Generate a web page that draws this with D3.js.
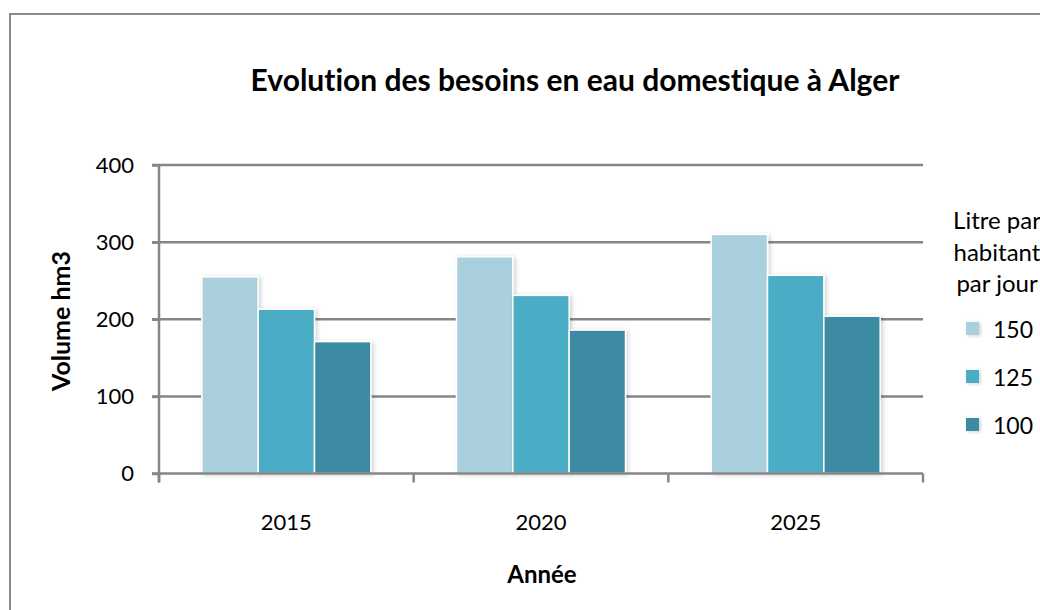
<!DOCTYPE html>
<html>
<head>
<meta charset="utf-8">
<script src="https://cdn.jsdelivr.net/npm/d3@7"></script>
<style>
  body { margin: 0; background: #fff; }
  text { font-family: Lato, "Open Sans", sans-serif; fill: #000; font-variant-ligatures: none; }
</style>
</head>
<body>
<div id="chart"></div>
<script>
var years = ['2015', '2020', '2025'];
var series = ['150', '125', '100'];
var values150 = [255, 281, 310];
var values125 = [213, 231, 257];
var values100 = [171, 186, 204];
var yTicks = [0, 100, 200, 300, 400];
var colors = ['#aacfdd', '#4bacc6', '#3c8ba2'];

var width = 1040, height = 610;
var svg = d3.select('#chart').append('svg')
    .attr('width', width)
    .attr('height', height);

var defs = svg.append('defs');
var shadow = defs.append('filter').attr('id', 'shadow')
    .attr('x', '-20%').attr('y', '-20%').attr('width', '140%').attr('height', '140%');
shadow.append('feDropShadow')
    .attr('dx', 2).attr('dy', 1).attr('stdDeviation', 2)
    .attr('flood-color', '#000').attr('flood-opacity', 0.18);

// frame around chart
svg.append('rect')
    .attr('x', 10).attr('y', 14)
    .attr('width', 1060).attr('height', 640)
    .attr('fill', 'none')
    .attr('stroke', '#8a8a8a')
    .attr('stroke-width', 2);

var plotLeft = 159, plotRight = 923, plotTop = 165, plotBottom = 473.5;

var x0 = d3.scaleBand().domain(years).range([plotLeft, plotRight]);
var x1 = d3.scaleBand().domain(series).range([0, x0.bandwidth()]).paddingOuter(0.76);
var y = d3.scaleLinear().domain([0, 400]).range([plotBottom, plotTop]);

// grid lines
svg.append('g').selectAll('line').data(yTicks.slice(1)).enter().append('line')
    .attr('x1', plotLeft - 7).attr('x2', plotRight)
    .attr('y1', d => y(d)).attr('y2', d => y(d))
    .attr('stroke', '#868686').attr('stroke-width', 2.5);

var table = years.map((yr, i) => ({ year: yr, vals: [values150[i], values125[i], values100[i]] }));

var groups = svg.append('g').selectAll('g').data(table).enter().append('g')
    .attr('transform', d => `translate(${x0(d.year)},0)`);

groups.selectAll('rect').data(d => d.vals.map((v, j) => ({ key: series[j], v: v, c: colors[j] })))
    .enter().append('rect')
    .attr('x', d => x1(d.key))
    .attr('y', d => y(d.v))
    .attr('width', x1.bandwidth())
    .attr('height', d => plotBottom - y(d.v))
    .attr('fill', d => d.c)
    .attr('stroke', '#fff')
    .attr('stroke-width', 1.5)
    .attr('filter', 'url(#shadow)');

// y axis
var yAxis = svg.append('g').attr('transform', `translate(${plotLeft},0)`)
    .call(d3.axisLeft(y).tickValues(yTicks).tickSize(7).tickPadding(18));
yAxis.select('.domain').remove();
yAxis.selectAll('line').attr('stroke', '#868686').attr('stroke-width', 2.5);
yAxis.selectAll('text').style('font-size', '22px').attr('font-family', null);
svg.append('line')
    .attr('x1', plotLeft).attr('x2', plotLeft)
    .attr('y1', plotTop).attr('y2', plotBottom + 9)
    .attr('stroke', '#868686').attr('stroke-width', 2.5);

// x axis
var xAxisG = svg.append('g').attr('transform', `translate(0,${plotBottom})`);
xAxisG.append('line')
    .attr('x1', plotLeft - 7).attr('x2', plotRight)
    .attr('stroke', '#868686').attr('stroke-width', 2.5);
xAxisG.selectAll('.tk').data(years.concat(['end'])).enter().append('line')
    .attr('x1', d => d == 'end' ? plotRight : x0(d))
    .attr('x2', d => d == 'end' ? plotRight : x0(d))
    .attr('y1', 0).attr('y2', 9)
    .attr('stroke', '#868686').attr('stroke-width', 2.5);
xAxisG.selectAll('text').data(years).enter().append('text')
    .attr('x', d => x0(d) + x0.bandwidth() / 2)
    .attr('y', 56)
    .attr('text-anchor', 'middle')
    .style('font-size', '22px')
    .text(d => d);

// titles
svg.append('text')
    .attr('x', 575).attr('y', 91)
    .attr('text-anchor', 'middle')
    .style('font-size', '30px').style('font-weight', 'bold')
    .text('Evolution des besoins en eau domestique à Alger');

svg.append('text')
    .attr('transform', 'translate(70,321)rotate(-90)')
    .attr('text-anchor', 'middle')
    .style('font-size', '25px').style('font-weight', 'bold')
    .text('Volume hm3');

svg.append('text')
    .attr('x', 542).attr('y', 583)
    .attr('text-anchor', 'middle')
    .style('font-size', '24px').style('font-weight', 'bold')
    .text('Année');

// legend
var legTitle = ['Litre par', 'habitant', 'par jour'];
svg.append('g').selectAll('text').data(legTitle).enter().append('text')
    .attr('x', 997).attr('y', (d, i) => 229 + i * 31.5)
    .attr('text-anchor', 'middle')
    .style('font-size', '24px')
    .text(d => d);

var leg = svg.append('g').selectAll('g').data(series).enter().append('g')
    .attr('transform', (d, i) => `translate(966,${322 + i * 48})`);
leg.append('rect')
    .attr('width', 13).attr('height', 13)
    .attr('fill', (d, i) => colors[i])
    .attr('filter', 'url(#shadow)');
leg.append('text')
    .attr('x', 27).attr('y', 16)
    .style('font-size', '23px')
    .text(d => d);
</script>
</body>
</html>
